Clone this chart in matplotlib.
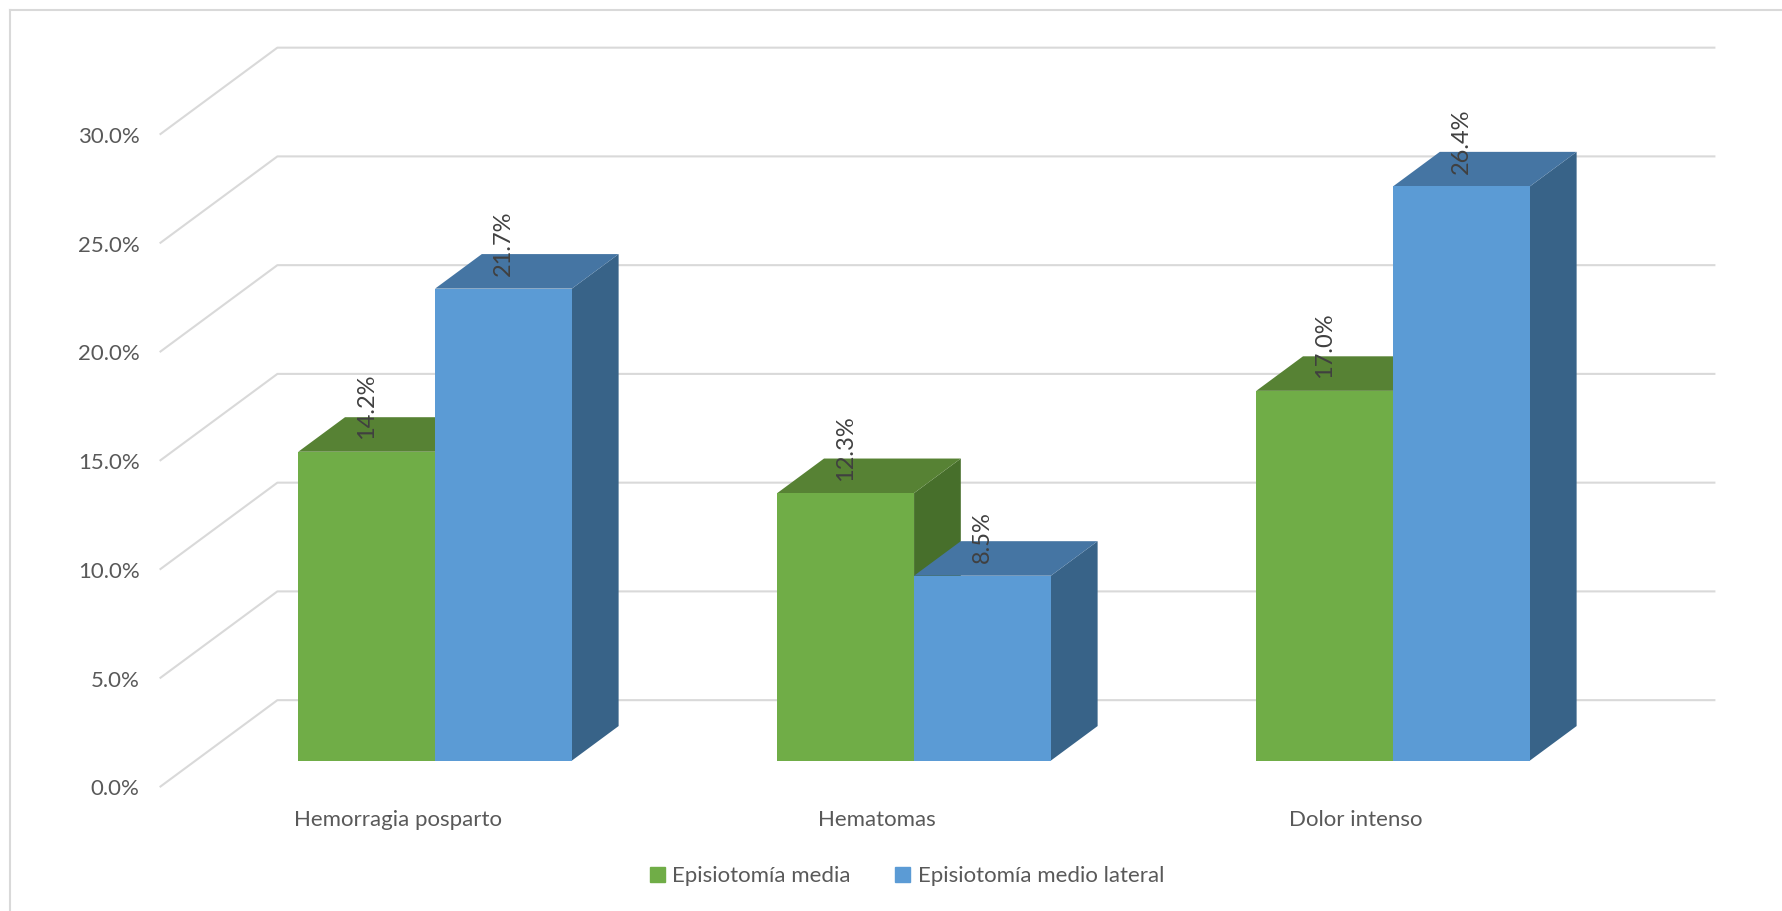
import matplotlib.pyplot as plt
from matplotlib.patches import Polygon, Patch

categories = ["Hemorragia posparto", "Hematomas", "Dolor intenso"]
series = ["Episiotomía media", "Episiotomía medio lateral"]
media = [14.2, 12.3, 17.0]
medio_lateral = [21.7, 8.5, 26.4]
yticks = [0, 5, 10, 15, 20, 25, 30]

# colours: front, top, side
green = ("#70AD47", "#578234", "#476F2B")
blue = ("#5B9BD5", "#4575A3", "#386388")
grid_c = "#D9D9D9"
text_c = "#595959"

# oblique depth vector (data units per unit depth)
DX, DY = 0.244, 3.97
bw = 0.2856
d0, d1 = 0.3, 0.7


def proj(x, y, d):
    return (x + d * DX, y + d * DY)


plt.rcParams['font.family'] = ['Lato', 'DejaVu Sans']
fig = plt.figure(figsize=(17.82, 9.11), dpi=100)
ax = fig.add_axes([0, 0, 1, 1])
ax.set_xlim(-400 / 479, (1782 - 400) / 479)
ax.set_ylim(-(911 - 786.5) / 21.75, 786.5 / 21.75)
ax.axis('off')

# outer border (top and left only visible)
fig.add_artist(plt.Line2D([10 / 1782, 10 / 1782], [0, 1 - 10 / 911], color=grid_c, lw=1.5))
fig.add_artist(plt.Line2D([10 / 1782, 1], [1 - 10 / 911, 1 - 10 / 911], color=grid_c, lw=1.5))

# gridlines: left wall diagonal + back wall horizontal
for v in yticks:
    p0 = proj(-0.5, v, 0)
    p1 = proj(-0.5, v, 1)
    p2 = proj(2.5, v, 1)
    ax.plot([p0[0], p1[0], p2[0]], [p0[1], p1[1], p2[1]], color=grid_c, lw=1.5, zorder=1)
    ax.annotate(f"{v:.1f}%", p0, xytext=(-15, -2), textcoords='offset points',
                ha='right', va='center', fontsize=16, color=text_c)


def bar3d(x0, x1, h, cols, z):
    front = [proj(x0, 0, d0), proj(x1, 0, d0), proj(x1, h, d0), proj(x0, h, d0)]
    top = [proj(x0, h, d0), proj(x1, h, d0), proj(x1, h, d1), proj(x0, h, d1)]
    side = [proj(x1, 0, d0), proj(x1, 0, d1), proj(x1, h, d1), proj(x1, h, d0)]
    ax.add_patch(Polygon(side, closed=True, fc=cols[2], ec='none', zorder=z))
    ax.add_patch(Polygon(top, closed=True, fc=cols[1], ec='none', zorder=z))
    ax.add_patch(Polygon(front, closed=True, fc=cols[0], ec='none', zorder=z))


z = 2
for i in range(len(categories)):
    for j, (vals, cols) in enumerate([(media, green), (medio_lateral, blue)]):
        x0 = i - bw + j * bw
        x1 = x0 + bw
        bar3d(x0, x1, vals[i], cols, z)
        z += 1
        ax.annotate(f"{vals[i]:.1f}%", proj((x0 + x1) / 2, vals[i], d0), xytext=(0, 9),
                    textcoords='offset points', ha='center', va='bottom', rotation=90,
                    fontsize=17, color="#404040", zorder=20)
    ax.annotate(categories[i], proj(i - 0.005, 0, 0), xytext=(0, -24), textcoords='offset points',
                ha='center', va='center', fontsize=16, color=text_c)

handles = [Patch(color=green[0]), Patch(color=blue[0])]
fig.legend(handles, series, loc='center', bbox_to_anchor=(0.509, 0.038), ncol=2,
           frameon=False, fontsize=16, labelcolor=text_c, handlelength=0.65, handleheight=0.65,
           handletextpad=0.35, columnspacing=2.0)

fig.savefig("out.png", dpi=100, facecolor='white')
